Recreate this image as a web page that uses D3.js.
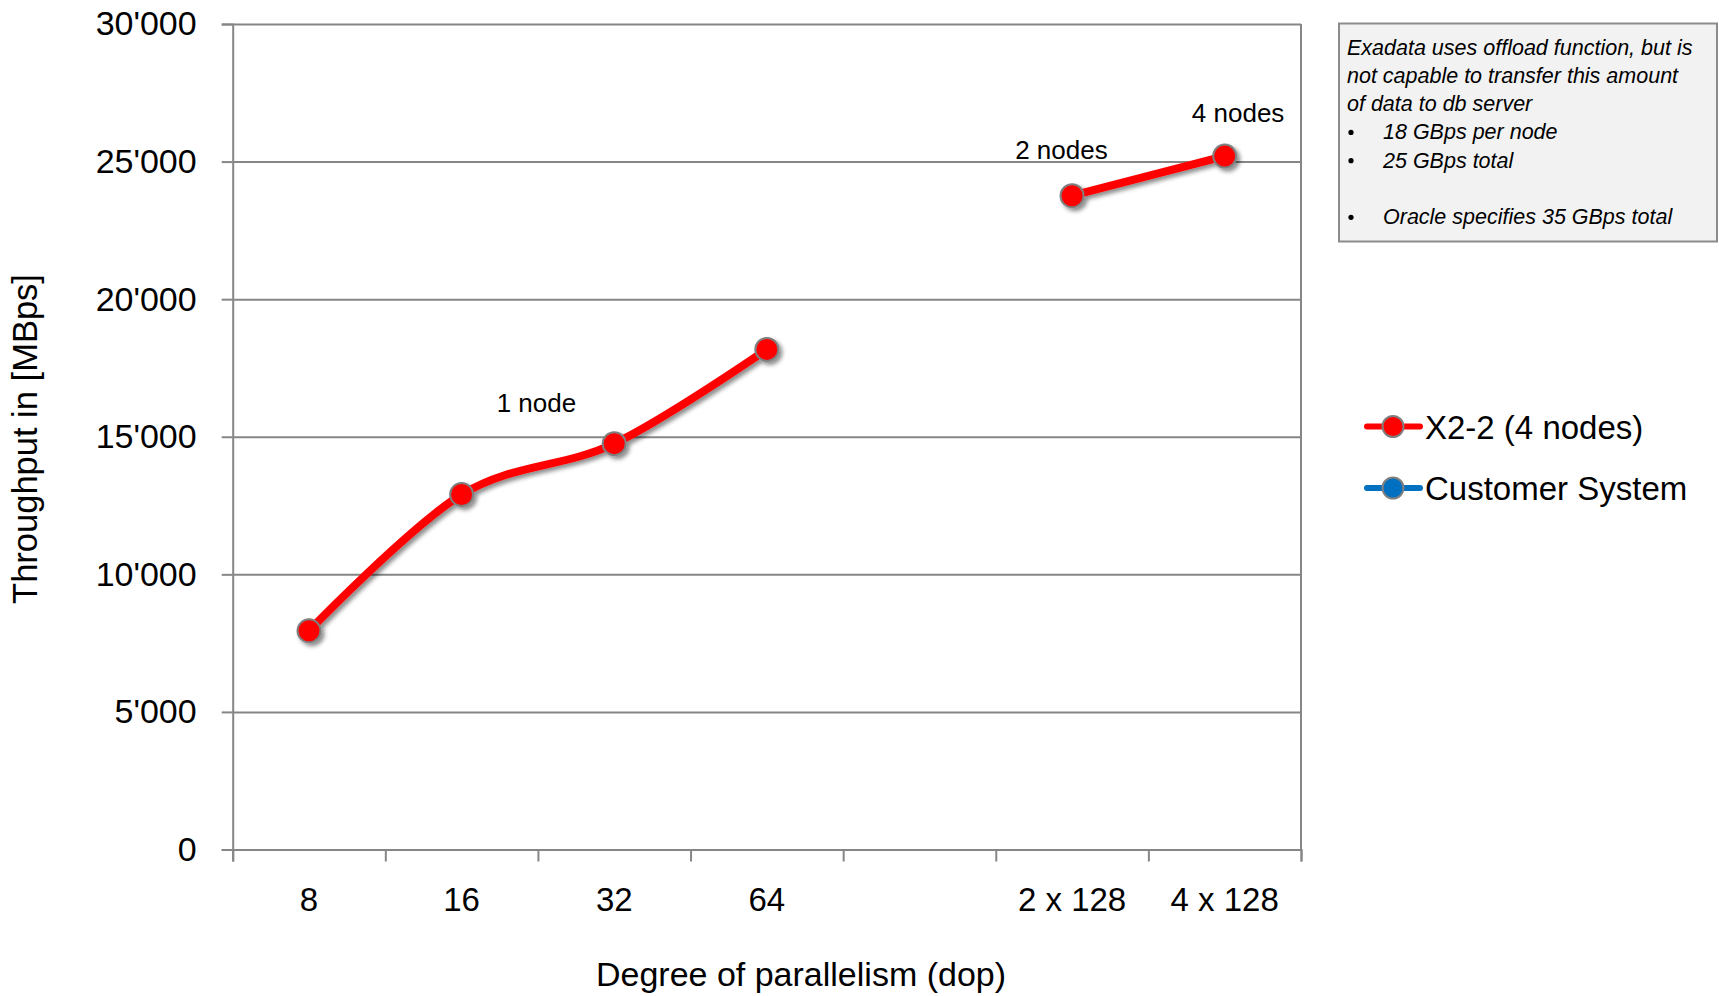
<!DOCTYPE html>
<html><head><meta charset="utf-8">
<script src="https://cdn.jsdelivr.net/npm/d3@7"></script>
<style>
html,body{margin:0;padding:0;background:#fff;}
svg{display:block;font-family:"Liberation Sans",Arial,sans-serif;}
</style></head><body>
<svg id="chart" width="1719" height="996"></svg>
<script>
// Throughput per degree of parallelism
const categories = ["8", "16", "32", "64", "", "2 x 128", "4 x 128"];
const x22Values = [7950, 12900, 14750, 18175, null, 23760, 25200];
const customerValues = [null, null, null, null, null, null, null];
const yTickValues = [0, 5000, 10000, 15000, 20000, 25000, 30000];
const yTickLabels = ["0", "5'000", "10'000", "15'000", "20'000", "25'000", "30'000"];
const seriesNames = ["X2-2 (4 nodes)", "Customer System"];
const seriesColors = ["#ff0000", "#0070c0"];
const groupLabels = ["1 node", "2 nodes", "4 nodes"];
const noteLines = [
  {text: "Exadata uses offload function, but is", bullet: false},
  {text: "not capable to transfer this amount", bullet: false},
  {text: "of data to db server", bullet: false},
  {text: "18 GBps per node", bullet: true},
  {text: "25 GBps total", bullet: true},
  {text: "", bullet: false},
  {text: "Oracle specifies 35 GBps total", bullet: true}
];

// layout
const plot = {left: 232.7, right: 1301, top: 24, bottom: 849.5};
const groupLabelPos = [{at: 1.99, v: 15900}, {at: 5.43, v: 25094}, {at: 6.588, v: 26450}];
const gridColor = "#868686";

const svg = d3.select("#chart");
const defs = svg.append("defs");
const shadow = defs.append("filter").attr("id", "shadow")
  .attr("x", "-20%").attr("y", "-20%").attr("width", "140%").attr("height", "140%");
shadow.append("feDropShadow").attr("dx", 3).attr("dy", 3).attr("stdDeviation", 2.2)
  .attr("flood-color", "#000").attr("flood-opacity", 0.45);

const x = d3.scaleBand().domain(d3.range(categories.length)).range([plot.left, plot.right]).padding(0);
const xb = d3.scaleLinear().domain([0, categories.length]).range([plot.left, plot.right]);
const y = d3.scaleLinear().domain([0, 30000]).range([plot.bottom, plot.top]);
const cx = i => x(i) + x.bandwidth() / 2;

// horizontal gridlines
svg.append("g").attr("class", "grid")
  .attr("transform", `translate(${plot.left},0)`)
  .call(d3.axisLeft(y).tickValues(yTickValues).tickSize(-(plot.right - plot.left)).tickFormat(""))
  .call(g => g.select(".domain").remove())
  .call(g => g.selectAll("line").attr("stroke", gridColor).attr("stroke-width", 2));

// y axis
svg.append("g").attr("class", "y-axis")
  .attr("transform", `translate(${plot.left},0)`)
  .call(d3.axisLeft(y).tickValues(yTickValues).tickSize(11).tickPadding(25)
    .tickFormat((d, i) => yTickLabels[i]))
  .call(g => g.select(".domain").attr("stroke", gridColor).attr("stroke-width", 2))
  .call(g => g.selectAll("line").attr("stroke", gridColor).attr("stroke-width", 2))
  .call(g => g.selectAll("text").attr("font-size", 34).attr("fill", "#000")
    .attr("font-family", "Liberation Sans, Arial, sans-serif"));

// right border
svg.append("line").attr("x1", plot.right).attr("x2", plot.right)
  .attr("y1", plot.top).attr("y2", plot.bottom)
  .attr("stroke", gridColor).attr("stroke-width", 2);

// x axis: boundary ticks
svg.append("g").attr("class", "x-ticks")
  .attr("transform", `translate(0,${plot.bottom})`)
  .call(d3.axisBottom(xb).tickValues(d3.range(categories.length + 1)).tickSize(12).tickFormat(""))
  .call(g => g.select(".domain").attr("stroke", gridColor).attr("stroke-width", 2))
  .call(g => g.selectAll("line").attr("stroke", gridColor).attr("stroke-width", 2));

// x axis: category labels
svg.append("g").attr("class", "x-labels")
  .attr("transform", `translate(0,${plot.bottom})`)
  .call(d3.axisBottom(x).tickSize(0).tickPadding(38).tickFormat(i => categories[i]))
  .call(g => g.select(".domain").remove())
  .call(g => g.selectAll("text").attr("font-size", 33).attr("fill", "#000")
    .attr("font-family", "Liberation Sans, Arial, sans-serif"));

// axis titles
svg.append("text").attr("x", 801).attr("y", 986)
  .attr("text-anchor", "middle").attr("font-size", 34).attr("fill", "#000")
  .text("Degree of parallelism (dop)");
svg.append("text").attr("transform", "translate(37,439) rotate(-90)")
  .attr("text-anchor", "middle").attr("font-size", 34.5).attr("fill", "#000")
  .text("Throughput in [MBps]");

// series
const seriesData = [x22Values, customerValues];
const line = d3.line()
  .defined(d => d.v != null)
  .x(d => cx(d.i))
  .y(d => y(d.v))
  .curve(d3.curveCatmullRom.alpha(0));

seriesData.forEach((vals, s) => {
  const pts = vals.map((v, i) => ({i, v}));
  const g = svg.append("g").attr("filter", "url(#shadow)");
  g.append("path").datum(pts)
    .attr("d", line)
    .attr("fill", "none")
    .attr("stroke", seriesColors[s])
    .attr("stroke-width", 8)
    .attr("stroke-linecap", "round")
    .attr("stroke-linejoin", "round");
  g.selectAll("circle").data(pts.filter(d => d.v != null)).join("circle")
    .attr("cx", d => cx(d.i)).attr("cy", d => y(d.v)).attr("r", 11.5)
    .attr("fill", seriesColors[s]).attr("stroke", "#7f7f7f").attr("stroke-width", 2);
});

// group labels
svg.append("g").selectAll("text").data(groupLabels).join("text")
  .attr("x", (d, i) => xb(groupLabelPos[i].at))
  .attr("y", (d, i) => y(groupLabelPos[i].v))
  .attr("text-anchor", "middle").attr("font-size", 26).attr("fill", "#000")
  .text(d => d);

// note box
const note = svg.append("g");
note.append("rect").attr("x", 1339).attr("y", 23.5).attr("width", 378).attr("height", 218)
  .attr("fill", "#f2f2f2").attr("stroke", "#8c8c8c").attr("stroke-width", 2);
noteLines.forEach((ln, i) => {
  const by = 54.5 + i * 28.3;
  if (ln.bullet) {
    note.append("circle").attr("cx", 1351).attr("cy", by - 7).attr("r", 2.6).attr("fill", "#000");
  }
  note.append("text").attr("x", ln.bullet ? 1383 : 1347).attr("y", by)
    .attr("font-size", 21.5).attr("font-style", "italic").attr("fill", "#000")
    .text(ln.text);
});

// legend
const legend = svg.append("g");
seriesNames.forEach((name, i) => {
  const ly = 426.5 + i * 61.5;
  legend.append("line").attr("x1", 1367).attr("x2", 1420).attr("y1", ly).attr("y2", ly)
    .attr("stroke", seriesColors[i]).attr("stroke-width", 6).attr("stroke-linecap", "round");
  legend.append("circle").attr("cx", 1393).attr("cy", ly).attr("r", 10.5)
    .attr("fill", seriesColors[i]).attr("stroke", "#7f7f7f").attr("stroke-width", 2);
  legend.append("text").attr("x", 1425).attr("y", ly + 12)
    .attr("font-size", 33).attr("fill", "#000").text(name);
});
</script>
</body></html>
